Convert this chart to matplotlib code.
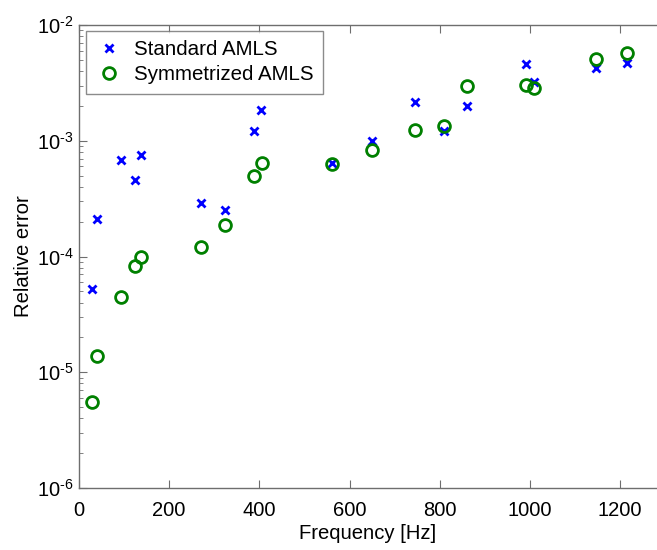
import matplotlib
matplotlib.use("Agg")
import matplotlib.pyplot as plt
from matplotlib.ticker import LogLocator, NullFormatter

plt.rcParams['font.family'] = ['Liberation Sans', 'DejaVu Sans']
plt.rcParams['mathtext.fontset'] = 'custom'
plt.rcParams['mathtext.rm'] = 'Liberation Sans'
plt.rcParams['mathtext.it'] = 'Liberation Sans'
plt.rcParams['mathtext.default'] = 'regular'

std_freq = [29, 41, 93, 124, 138, 270, 323, 389, 404, 561, 650, 745, 809, 860, 992, 1010, 1146, 1216]
std_err = [5.2e-5, 2.1e-4, 6.8e-4, 4.55e-4, 7.5e-4, 2.88e-4, 2.54e-4, 1.22e-3, 1.85e-3,
           6.4e-4, 9.9e-4, 2.15e-3, 1.22e-3, 2.01e-3, 4.57e-3, 3.2e-3, 4.23e-3, 4.67e-3]

sym_freq = [29, 41, 93, 124, 138, 270, 323, 389, 405, 561, 650, 745, 809, 860, 992, 1010, 1146, 1216]
sym_err = [5.57e-6, 1.38e-5, 4.5e-5, 8.3e-5, 9.85e-5, 1.22e-4, 1.87e-4, 4.96e-4, 6.38e-4,
           6.3e-4, 8.37e-4, 1.24e-3, 1.35e-3, 2.95e-3, 3.03e-3, 2.87e-3, 5.06e-3, 5.69e-3]

x_ticks = [0, 200, 400, 600, 800, 1000, 1200]
y_ticks = [1e-6, 1e-5, 1e-4, 1e-3, 1e-2]
y_exponents = ['-6', '-5', '-4', '-3', '-2']

fig = plt.figure(figsize=(6.57, 5.5), dpi=100)
ax = fig.add_axes([79/657, 62/550, 1 - 79/657, (488-25)/550])

ax.plot(std_freq, std_err, linestyle='none', marker='x', color='#0000ff',
        markersize=6, markeredgewidth=2, label='Standard AMLS')
ax.plot(sym_freq, sym_err, linestyle='none', marker='o', color='#008000',
        markerfacecolor='none', markersize=8.5, markeredgewidth=2, label='Symmetrized AMLS')

ax.set_yscale('log')
ax.set_xlim(0, 1282)
ax.set_ylim(1e-6, 1e-2)
ax.set_xticks(x_ticks)
ax.set_xticklabels([str(v) for v in x_ticks])
ax.set_yticks(y_ticks)
ax.set_yticklabels([r'$10^{\text{%s}}$' % e for e in y_exponents])
ax.yaxis.set_minor_locator(LogLocator(base=10, subs=range(2, 10)))
ax.yaxis.set_minor_formatter(NullFormatter())

for side in ['left', 'bottom', 'top']:
    ax.spines[side].set_color('#6e6e6e')
    ax.spines[side].set_linewidth(1.0)
ax.spines['right'].set_visible(False)

ax.tick_params(axis='both', which='both', direction='in', colors='#6e6e6e',
               labelcolor='black', labelsize=14.5, top=True, right=False)
ax.tick_params(axis='both', which='major', length=6)
ax.tick_params(axis='y', which='minor', length=3)
ax.tick_params(axis='x', which='major', pad=9)
ax.tick_params(axis='y', which='major', pad=4)

ax.set_xlabel('Frequency [Hz]', fontsize=14.6, labelpad=3)
ax.set_ylabel('Relative error', fontsize=14.6, labelpad=3)

leg = ax.legend(loc='upper left', bbox_to_anchor=(7/578, 1 - 6/463), fontsize=14.8,
                frameon=True, fancybox=False, edgecolor='#6e6e6e', borderpad=0.45,
                handletextpad=0.6, handlelength=1.3, labelspacing=0.3, borderaxespad=0)
leg.get_frame().set_linewidth(1.0)

fig.savefig('out.png', dpi=100)
